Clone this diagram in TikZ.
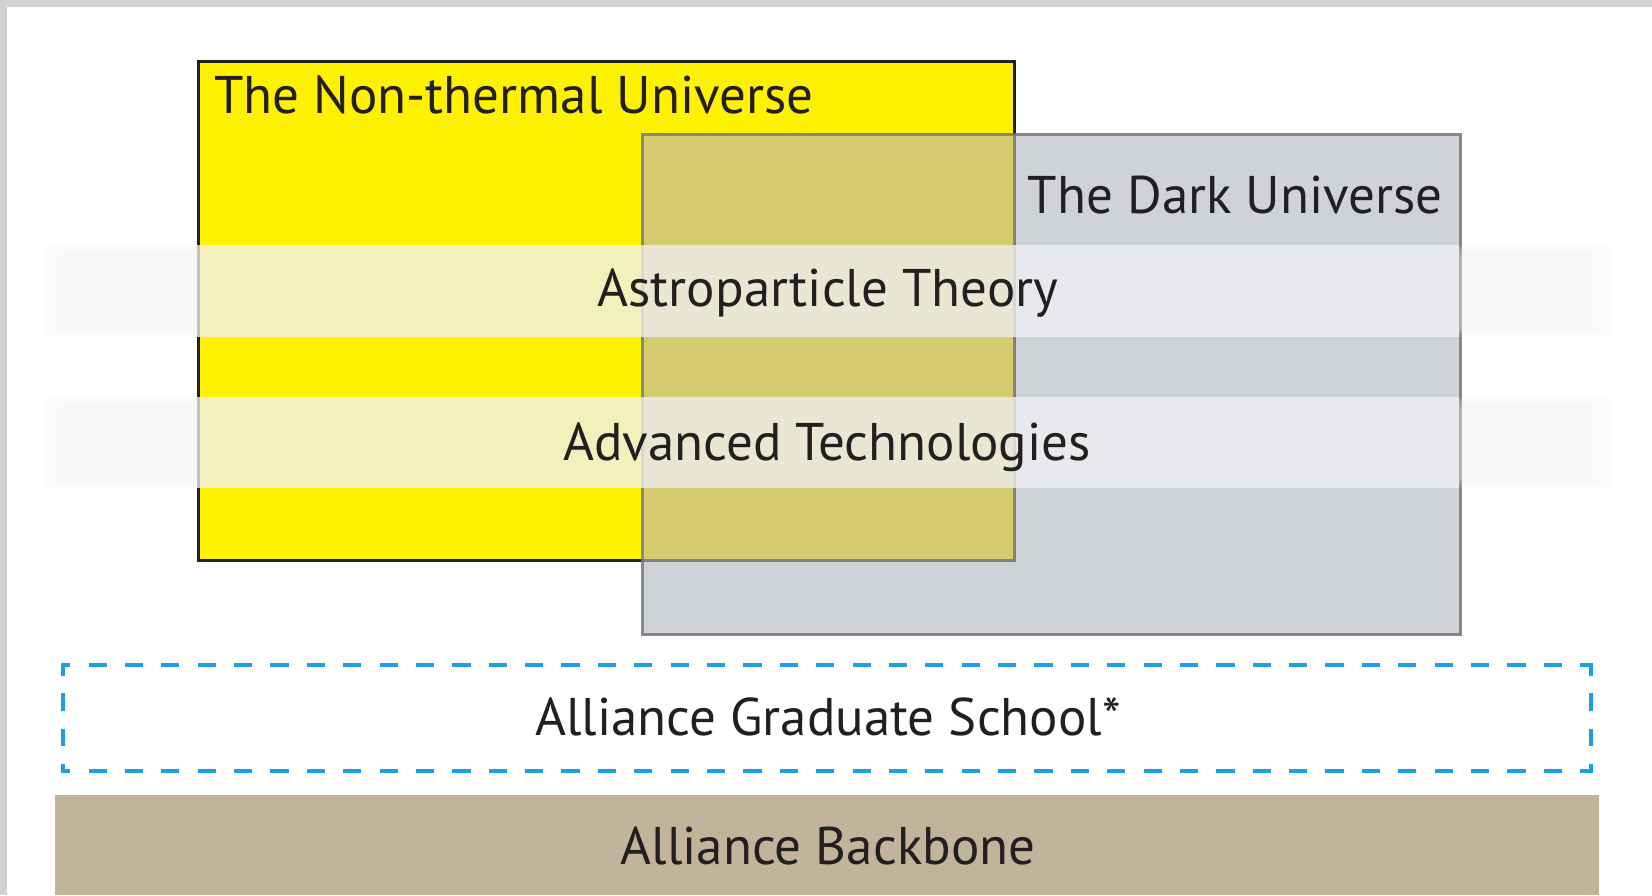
\documentclass[tikz,border=0pt]{standalone}
\usepackage{fontspec}
\setmainfont{PT Sans}
\definecolor{frame}{HTML}{D2D2D2}
\definecolor{ylw}{HTML}{FFF200}
\definecolor{ylwline}{HTML}{231F20}
\definecolor{greyfill}{HTML}{B2B7BF}
\definecolor{greyline}{HTML}{777777}
\definecolor{bandc}{HTML}{F0F0F2}
\definecolor{dashc}{HTML}{1BA0E2}
\definecolor{tan}{HTML}{C2B49A}
\definecolor{ink}{HTML}{231F20}
\definecolor{warm}{HTML}{F0C040}
\tikzset{
  lbl/.style={inner sep=0pt, text=ink, font=\fontsize{53}{63}\selectfont},
  band/.style={fill=bandc, fill opacity=0.78, draw=none},
  shadowband/.style={fill=bandc, fill opacity=0.09, draw=none},
}
\begin{document}
\begin{tikzpicture}[x=1pt,y=-1pt]
\useasboundingbox (0,0) rectangle (1652,895);
\fill[white] (0,0) rectangle (1652,895);
% frame
\fill[frame] (0,0) rectangle (1652,7);
\fill[frame] (0,0) rectangle (7,895);

% Non-thermal universe box
\node[draw=ylwline, line width=3pt, fill=ylw, inner sep=0pt, minimum width=816pt, minimum height=499pt, anchor=north west] (ntu) at (197,60) {};
% Dark universe box
\node[draw=greyline, draw opacity=0.85, line width=3pt, fill=greyfill, fill opacity=0.61, inner sep=0pt, minimum width=818pt, minimum height=500pt, anchor=north west] (du) at (641,133) {};
% warm tint of the overlap
\fill[warm, fill opacity=0.12] ([shift={(1.5pt,-1.5pt)}]du.north west) rectangle ([shift={(-1.5pt,1.5pt)}]ntu.south east);

% bands: blurred outer parts
\foreach \i in {0,...,5}{
  \fill[shadowband] (42+\i*5,245+\i*2) rectangle (197,337-\i*2);
  \fill[shadowband] (1459,245+\i*2) rectangle (1612-\i*5,337-\i*2);
  \fill[shadowband] (42+\i*5,397+\i*2) rectangle (197,488-\i*2);
  \fill[shadowband] (1459,397+\i*2) rectangle (1612-\i*5,488-\i*2);
}
\node[band, inner sep=0pt, minimum width=1262pt, minimum height=92pt, anchor=north west] (band1) at (197,245) {};
\node[band, inner sep=0pt, minimum width=1262pt, minimum height=91pt, anchor=north west] (band2) at (197,397) {};

% graduate school dashed box
\coordinate (gsnw) at (63,665);
\coordinate (gsne) at (1591,665);
\coordinate (gsse) at (1591,771);
\coordinate (gssw) at (63,771);
\begin{scope}[draw=dashc, line width=3.5pt, line cap=butt]
\draw[dash pattern=on 18.19pt off 18.19pt, dash phase=9.1pt] ([xshift=-1.75pt]gsnw) -- ([xshift=1.75pt]gsne);
\draw[dash pattern=on 18.19pt off 18.19pt, dash phase=9.1pt] ([xshift=-1.75pt]gssw) -- ([xshift=1.75pt]gsse);
\draw[dash pattern=on 17.67pt off 17.67pt, dash phase=8.83pt] ([yshift=-1.75pt]gsnw) -- ([yshift=1.75pt]gssw);
\draw[dash pattern=on 17.67pt off 17.67pt, dash phase=8.83pt] ([yshift=-1.75pt]gsne) -- ([yshift=1.75pt]gsse);
\end{scope}

% backbone
\node[fill=tan, inner sep=0pt, minimum width=1544pt, minimum height=100pt, anchor=north west] (bb) at (55,795) {};

% labels
\node[lbl, anchor=base west] (tntu) at (214,113) {The Non-thermal Universe};
\node[lbl, anchor=base east] (tdu) at (1443,213) {The Dark Universe};
\node[lbl, anchor=base] (tat) at (828,306) {Astroparticle Theory};
\node[lbl, anchor=base] (tadv) at (827,460) {Advanced Technologies};
\node[lbl, anchor=base] (tgs) at (828,735) {Alliance Graduate School*};
\node[lbl, anchor=base] (tbb) at (828,864) {Alliance Backbone};
\end{tikzpicture}
\end{document}
